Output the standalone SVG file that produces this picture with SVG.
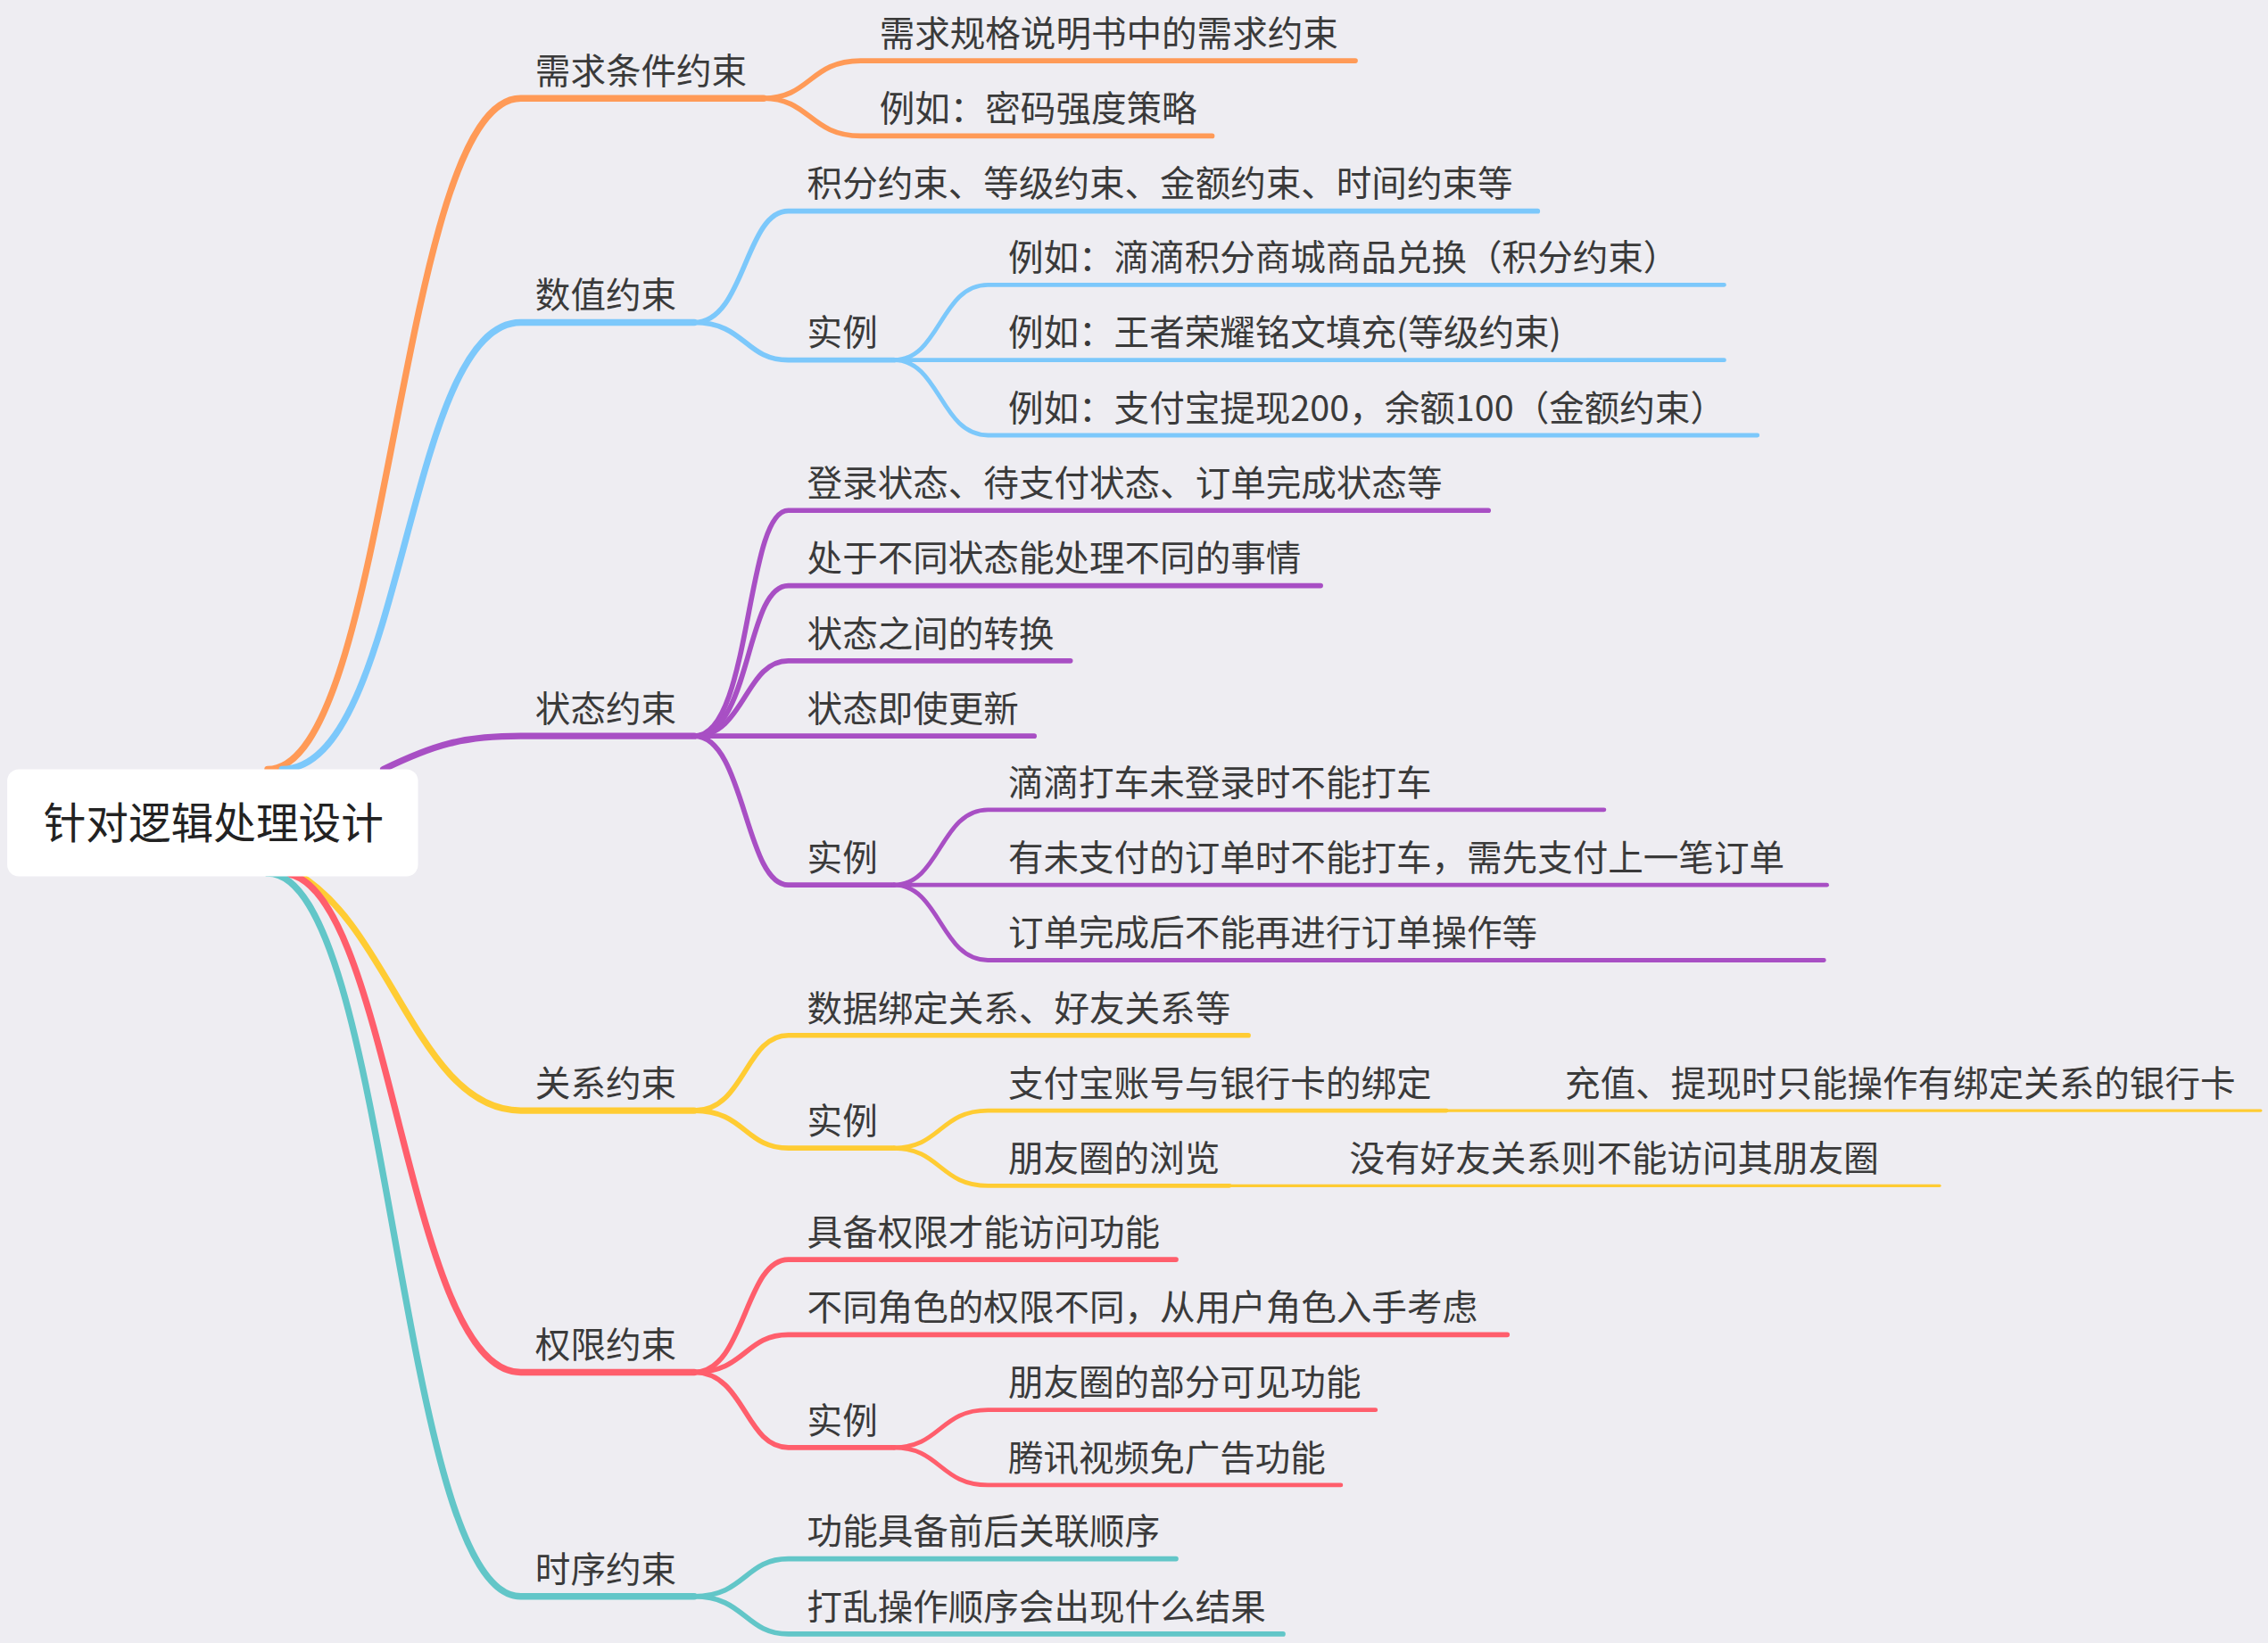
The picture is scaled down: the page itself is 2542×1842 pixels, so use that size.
<svg xmlns="http://www.w3.org/2000/svg" width="2542" height="1842" viewBox="0 0 2542 1842">
<style>
text{font-family:"Noto Sans CJK SC","Noto Sans",sans-serif;font-size:24.4px;fill:#3a3a3a}
.c{fill:none;stroke-linecap:round}
.o{stroke:#ff9a57}.b{stroke:#7cc8fb}.p{stroke:#a84fc4}.y{stroke:#ffcc33}.r{stroke:#ff5e6c}.t{stroke:#62c6c8}
.w1{stroke-width:4.5}.w2{stroke-width:3.5}.w3{stroke-width:3}.w4{stroke-width:2}
</style>
<rect width="2542" height="1842" fill="#eeedf2"/>
<g transform="scale(1.62117)">
<g id="connectors">
<path class="c o w1" d="M185,532 C270,532 275,68 360,68 H528"/>
<path class="c b w1" d="M195,532 C280,532 280,223 360,223 H480"/>
<path class="c p w1" d="M265,532 C300,515 320,509 360,509 H480"/>
<path class="c y w1" d="M205,604 C270,640 290,768 360,768 H480"/>
<path class="c r w1" d="M195,604 C270,604 280,949 360,949 H480"/>
<path class="c t w1" d="M185,604 C270,604 275,1104 360,1104 H480"/>
<path class="c o w2" d="M528,68 C560,68 560,42 595,42 H937"/>
<path class="c o w2" d="M528,68 C560,68 560,94 595,94 H838"/>
<path class="c b w2" d="M480,223 C515,223 515,146 545,146 H1063"/>
<path class="c b w2" d="M480,223 C515,223 515,249 545,249 H618"/>
<path class="c b w3" d="M618,249 C650,249 650,197 683,197 H1192"/>
<path class="c b w3" d="M618,249 H1192"/>
<path class="c b w3" d="M618,249 C650,249 650,301 683,301 H1215"/>
<path class="c p w2" d="M480,509 C520,509 515,353 545,353 H1029"/>
<path class="c p w2" d="M480,509 C520,509 515,405 545,405 H913"/>
<path class="c p w2" d="M480,509 C515,509 515,457 545,457 H740"/>
<path class="c p w2" d="M480,509 H715"/>
<path class="c p w2" d="M480,509 C515,509 515,612 545,612 H618"/>
<path class="c p w3" d="M618,612 C650,612 650,560 683,560 H1109"/>
<path class="c p w3" d="M618,612 H1263"/>
<path class="c p w3" d="M618,612 C650,612 650,664 683,664 H1261"/>
<path class="c y w2" d="M480,768 C515,768 515,716 545,716 H863"/>
<path class="c y w2" d="M480,768 C515,768 515,794 545,794 H618"/>
<path class="c y w3" d="M618,794 C650,794 650,768 683,768 H1000"/>
<path class="c y w3" d="M618,794 C650,794 650,820 683,820 H850"/>
<path class="c y w4" d="M1000,768 H1563"/>
<path class="c y w4" d="M850,820 H1341"/>
<path class="c r w2" d="M480,949 C515,949 515,871 545,871 H813"/>
<path class="c r w2" d="M480,949 C515,949 515,923 545,923 H1042"/>
<path class="c r w2" d="M480,949 C515,949 515,1001 545,1001 H618"/>
<path class="c r w3" d="M618,1001 C650,1001 650,975 683,975 H951"/>
<path class="c r w3" d="M618,1001 C650,1001 650,1027 683,1027 H927"/>
<path class="c t w2" d="M480,1104 C515,1104 515,1078 545,1078 H813"/>
<path class="c t w2" d="M480,1104 C515,1104 515,1130 545,1130 H887"/>
</g>
<g id="root"><rect x="5" y="532" width="284" height="74" rx="8" fill="#fff"/><text x="30" y="580" style="font-size:29.4px;fill:#222">针对逻辑处理设计</text></g>
<g id="n1"><text x="370" y="58">需求条件约束</text></g>
<g id="n1a"><text x="608" y="32">需求规格说明书中的需求约束</text></g>
<g id="n1b"><text x="608" y="84">例如：密码强度策略</text></g>
<g id="n2"><text x="370" y="213">数值约束</text></g>
<g id="n2a"><text x="558" y="136">积分约束、等级约束、金额约束、时间约束等</text></g>
<g id="n2b"><text x="558" y="239">实例</text></g>
<g id="n2b1"><text x="697" y="187">例如：滴滴积分商城商品兑换（积分约束）</text></g>
<g id="n2b2"><text x="697" y="239">例如：王者荣耀铭文填充(等级约束)</text></g>
<g id="n2b3"><text x="697" y="291">例如：支付宝提现200，余额100（金额约束）</text></g>
<g id="n3"><text x="370" y="499">状态约束</text></g>
<g id="n3a"><text x="558" y="343">登录状态、待支付状态、订单完成状态等</text></g>
<g id="n3b"><text x="558" y="395">处于不同状态能处理不同的事情</text></g>
<g id="n3c"><text x="558" y="447">状态之间的转换</text></g>
<g id="n3d"><text x="558" y="499">状态即使更新</text></g>
<g id="n3e"><text x="558" y="602">实例</text></g>
<g id="n3e1"><text x="697" y="550">滴滴打车未登录时不能打车</text></g>
<g id="n3e2"><text x="697" y="602">有未支付的订单时不能打车，需先支付上一笔订单</text></g>
<g id="n3e3"><text x="697" y="654">订单完成后不能再进行订单操作等</text></g>
<g id="n4"><text x="370" y="758">关系约束</text></g>
<g id="n4a"><text x="558" y="706">数据绑定关系、好友关系等</text></g>
<g id="n4b"><text x="558" y="784">实例</text></g>
<g id="n4b1"><text x="697" y="758">支付宝账号与银行卡的绑定</text></g>
<g id="n4b1a"><text x="1082" y="758">充值、提现时只能操作有绑定关系的银行卡</text></g>
<g id="n4b2"><text x="697" y="810">朋友圈的浏览</text></g>
<g id="n4b2a"><text x="933" y="810">没有好友关系则不能访问其朋友圈</text></g>
<g id="n5"><text x="370" y="939">权限约束</text></g>
<g id="n5a"><text x="558" y="861">具备权限才能访问功能</text></g>
<g id="n5b"><text x="558" y="913">不同角色的权限不同，从用户角色入手考虑</text></g>
<g id="n5c"><text x="558" y="991">实例</text></g>
<g id="n5c1"><text x="697" y="965">朋友圈的部分可见功能</text></g>
<g id="n5c2"><text x="697" y="1017">腾讯视频免广告功能</text></g>
<g id="n6"><text x="370" y="1094">时序约束</text></g>
<g id="n6a"><text x="558" y="1068">功能具备前后关联顺序</text></g>
<g id="n6b"><text x="558" y="1120">打乱操作顺序会出现什么结果</text></g>
</g>
</svg>
